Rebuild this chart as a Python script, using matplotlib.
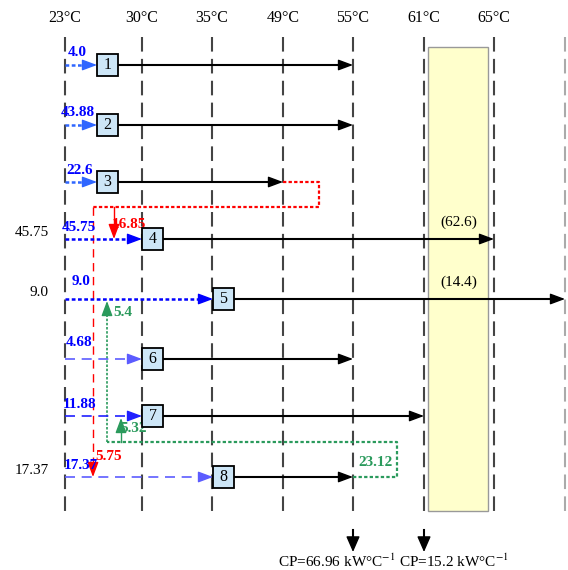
import matplotlib.pyplot as plt
from matplotlib.patches import Rectangle

plt.rcParams['font.family'] = ['Liberation Serif', 'DejaVu Serif']
plt.rcParams['mathtext.fontset'] = 'stix'

# ---- data ----
temps = ['23°C', '30°C', '35°C', '49°C', '55°C', '61°C', '65°C']
stream_ids = [1, 2, 3, 4, 5, 6, 7, 8]
inlet_flows = ['4.0', '43.88', '22.6', '45.75', '9.0', '4.68', '11.88', '17.37']
end_col = [4, 4, 3, 6, 7, 4, 5, 4]          # temperature line each stream reaches
side_labels = {4: '45.75', 5: '9.0', 8: '17.37'}
outlet_labels = {4: '(62.6)', 5: '(14.4)'}
red_recycle = {4: '16.85', 8: '5.75'}       # recycle from stream 3
green_recycle = {5: '5.4', 7: '5.32'}       # recycle from stream 8
green_total = '23.12'
cp_cols = [4, 5]
cp_values = ['66.96', '15.2']

# ---- layout (pixels) ----
col_x = [65, 142, 212, 283, 353, 424, 494, 565]
row_y = [65, 125, 182, 239, 299, 359, 416, 477]
box_x = [97, 97, 97, 142, 213, 142, 142, 213]
label_x = [68, 61, 66, 62, 72, 66, 63, 64]
label_gap = [6, 6, 5, 5, 11, 10, 5, 5]
in_color = ['#2f66ff', '#2f66ff', '#2f66ff', '#0000ff', '#0000ff',
            '#5c5cff', '#2020ff', '#5c5cff']
in_style = ['dot'] * 5 + ['dash'] * 3
BW, BH = 21, 22
RED = '#ff0000'
GREEN = '#2a9a5c'
TXT_BLUE = '#0000ff'

fig = plt.figure(figsize=(5.68, 5.70), dpi=100)
ax = fig.add_axes([0, 0, 1, 1])
ax.set_xlim(0, 568)
ax.set_ylim(570, 0)
ax.axis('off')


def head(x0, y0, x1, y1, color, scale=12, hw=0.28, hl=0.75):
    ax.annotate('', xy=(x1, y1), xytext=(x0, y0),
                arrowprops=dict(arrowstyle=f'-|>,head_length={hl},head_width={hw}',
                                color=color, lw=1, shrinkA=0, shrinkB=0,
                                mutation_scale=scale), zorder=6)


# yellow band
ax.add_patch(Rectangle((428, 47), 60, 464, fc='#ffffcc', ec='#999999', lw=1, zorder=1))

# temperature lines
for i, x in enumerate(col_x):
    c = '#444444' if i < len(temps) else '#aaaaaa'
    ax.plot([x, x], [37, 518], color=c, lw=1.5, ls=(0, (7, 3.5)), zorder=2)
    if i < len(temps):
        ax.text(x, 18, temps[i], ha='center', va='center', fontsize=11.5)

# streams
for k, sid in enumerate(stream_ids):
    y = row_y[k]
    bx = box_x[k]
    ls = (0, (1.5, 1)) if in_style[k] == 'dot' else (0, (6, 4))
    lw = 1.8 if in_style[k] == 'dot' else 1.2
    ax.plot([col_x[0], bx - 8], [y, y], color=in_color[k], lw=lw, ls=ls, zorder=4)
    head(bx - 12, y, bx, y, in_color[k])
    ax.text(label_x[k], y - label_gap[k], inlet_flows[k], ha='left', va='bottom',
            fontsize=11, fontweight='bold', color=TXT_BLUE, zorder=7)
    # hot stream line
    xe = col_x[end_col[k]]
    ax.plot([bx + BW, xe - 8], [y, y], color='black', lw=1.5, zorder=4)
    head(xe - 12, y, xe, y, 'black')
    ax.add_patch(Rectangle((bx, y - BH / 2), BW, BH, fc='#cde6f7', ec='black',
                           lw=1.3, zorder=8))
    ax.text(bx + BW / 2, y, str(sid), ha='center', va='center', fontsize=11.5, zorder=9)
    if sid in side_labels:
        ax.text(49, y - 7, side_labels[sid], ha='right', va='center', fontsize=11)
    if sid in outlet_labels:
        ax.text(459, y - 17, outlet_labels[sid], ha='center', va='center', fontsize=11)

# red recycle loop from the end of stream 3
y3 = row_y[2]
xr = col_x[3] + 36
yr = y3 + 25
xl = 93
dot = (0, (1.5, 1))
ax.plot([col_x[3], xr, xr, xl], [y3, y3, yr, yr], color=RED, lw=1.6, ls=dot, zorder=3)
y8 = row_y[7]
ax.plot([xl, xl], [yr, y8 - 8], color=RED, lw=1, ls=(0, (6, 4)), zorder=3)
head(xl, y8 - 12, xl, y8, RED)
ax.text(xl + 2, y8 - 20, red_recycle[8], ha='left', va='center', fontsize=11,
        fontweight='bold', color=RED, zorder=7)
x4 = 114
y4 = row_y[3]
ax.plot([x4, x4], [yr, y4 - 8], color=RED, lw=1, zorder=3)
head(x4, y4 - 12, x4, y4, RED)
ax.text(x4 - 2, y4 - 14, red_recycle[4], ha='left', va='center', fontsize=11,
        fontweight='bold', color=RED, zorder=7)

# green recycle loop from the end of stream 8
xg = col_x[4] + 44
yg = 442
xv = 107
ax.plot([col_x[4], xg, xg, xv], [y8, y8, yg, yg], color=GREEN, lw=1.6, ls=dot, zorder=3)
y5 = row_y[4]
ax.plot([xv, xv], [yg, y5 + 8], color=GREEN, lw=1.2, ls=(0, (1.5, 1)), zorder=3)
head(xv, y5 + 14, xv, y5 + 2, GREEN)
ax.text(xv + 6, y5 + 14, green_recycle[5], ha='left', va='center', fontsize=11,
        fontweight='bold', color=GREEN, zorder=7)
x7 = 121
y7 = row_y[6]
ax.plot([x7, x7], [yg, y7 + 8], color=GREEN, lw=1, zorder=3)
head(x7, y7 + 14, x7, y7 + 2, GREEN)
ax.text(x7 - 1, y7 + 13, green_recycle[7], ha='left', va='center', fontsize=11,
        fontweight='bold', color=GREEN, zorder=7)
ax.text(col_x[4] + 5, y8 - 15, green_total, ha='left', va='center', fontsize=11,
        fontweight='bold', color=GREEN, zorder=7)

# cold utility arrows
cp_text_x = [337, 454]
for c, v, tx in zip(cp_cols, cp_values, cp_text_x):
    x = col_x[c]
    ax.plot([x, x], [530, 542], color='black', lw=1.5)
    head(x, 538, x, 552, 'black', scale=12, hw=0.35, hl=0.8)
    ax.text(tx, 561, f'CP={v} kW°C$^{{-1}}$', ha='center', va='center', fontsize=11)

fig.savefig('out.png', dpi=100)
